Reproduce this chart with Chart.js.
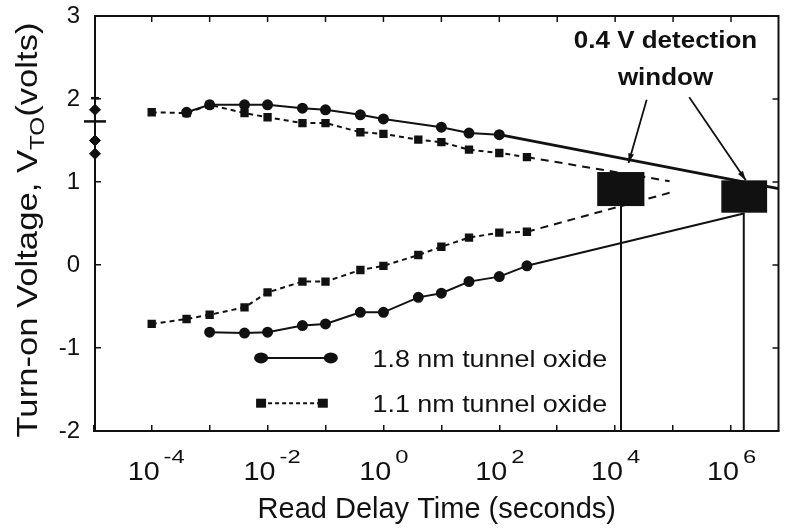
<!DOCTYPE html>
<html>
<head>
<meta charset="utf-8">
<script src="https://cdn.jsdelivr.net/npm/chart.js@4.4.1/dist/chart.umd.min.js"></script>
<style>
  html, body { margin: 0; padding: 0; background: #fff; }
</style>
</head>
<body>
<canvas id="chart" width="792" height="528"></canvas>
<script>
// --- data (x = read delay time in seconds, y = V_TO in volts) ---
const timesUpper18 = [4e-4, 1e-3, 4e-3, 1e-2, 4e-2, 1e-1, 4e-1, 1, 10, 30, 100];
const voltsUpper18 = [1.84, 1.93, 1.93, 1.93, 1.89, 1.87, 1.81, 1.76, 1.66, 1.59, 1.57];
const timesLower18 = [1e-3, 4e-3, 1e-2, 4e-2, 1e-1, 4e-1, 1, 4, 10, 30, 100, 300];
const voltsLower18 = [-0.81, -0.82, -0.81, -0.73, -0.71, -0.57, -0.57, -0.39, -0.34, -0.20, -0.14, -0.01];
const times11 = [1e-4, 4e-4, 1e-3, 4e-3, 1e-2, 4e-2, 1e-1, 4e-1, 1, 4, 10, 30, 100, 300];
const voltsUpper11 = [1.84, 1.83, 1.93, 1.83, 1.78, 1.71, 1.71, 1.60, 1.58, 1.51, 1.48, 1.39, 1.35, 1.30];
const voltsLower11 = [-0.71, -0.65, -0.60, -0.51, -0.33, -0.20, -0.20, -0.06, -0.01, 0.12, 0.22, 0.33, 0.39, 0.40];

// extrapolated trends
const trendUp18Times = [100, 6.6e6];
const trendUp18Volts = [1.57, 0.92];
const trendLow18Times = [300, 1.66e6];
const trendLow18Volts = [-0.01, 0.62];
const trendUp11Times = [300, 8.7e4];
const trendUp11Volts = [1.30, 1.01];
const trendLow11Times = [300, 8.7e4];
const trendLow11Volts = [0.40, 0.87];

// initial (t -> 0) spread plotted on the y axis
const initialTime = 1.05e-5;
const initialVolts = [1.87, 1.50, 1.34];
const initialBarVolts = [2.01, 1.73];

// 0.4 V detection windows
const windowXFrom = [4.9e3, 6.8e5];
const windowXTo = [3.2e4, 4.2e6];
const windowYFrom = [0.71, 0.63];
const windowYTo = [1.12, 1.02];
const windowDropX = [1.26e4, 1.66e6];

// annotation
const noteLines = ['0.4 V detection', 'window'];
const noteX = [7.4e4, 7.4e4];
const noteY = [2.69, 2.25];
const arrowFromX = [3.5e4, 1.9e5];
const arrowFromY = [1.99, 2.02];
const arrowToX = [1.7e4, 1.8e6];
const arrowToY = [1.23, 1.02];

// axes
const xDecades = [-5, -4, -3, -2, -1, 0, 1, 2, 3, 4, 5, 6];
const xLabelExps = [-4, -2, 0, 2, 4, 6];
const yTicks = [-2, -1, 0, 1, 2, 3];
const legendLabels = ['1.8 nm tunnel oxide', '1.1 nm tunnel oxide'];

const INK = '#111';
const FONT = '"Liberation Sans", Arial, sans-serif';

const pts = (xs, ys) => xs.map((x, i) => ({ x, y: ys[i] }));

function stretched(ctx, text, x, y, sx) {
  ctx.save();
  ctx.translate(x, y);
  ctx.scale(sx, 1);
  ctx.fillText(text, 0, 0);
  ctx.restore();
}

const overlay = {
  id: 'overlay',
  afterDatasetsDraw(chart) {
    const { ctx, chartArea: a, scales: { x, y } } = chart;
    ctx.save();
    ctx.fillStyle = INK;
    ctx.strokeStyle = INK;

    // detection window blocks
    windowXFrom.forEach((x0, i) => {
      const px0 = x.getPixelForValue(x0), px1 = x.getPixelForValue(windowXTo[i]);
      const py0 = y.getPixelForValue(windowYTo[i]), py1 = y.getPixelForValue(windowYFrom[i]);
      ctx.fillRect(px0, py0, px1 - px0, py1 - py0);
    });

    // frame: top and right sides + inner ticks
    ctx.lineWidth = 2;
    ctx.beginPath();
    ctx.moveTo(a.left, a.top); ctx.lineTo(a.right, a.top); ctx.lineTo(a.right, a.bottom);
    ctx.stroke();
    ctx.lineWidth = 1.5;
    xDecades.forEach(d => {
      const px = x.getPixelForValue(Math.pow(10, d));
      if (px <= a.left + 2 || px >= a.right - 2) return;
      ctx.beginPath(); ctx.moveTo(px, a.top); ctx.lineTo(px, a.top + 6); ctx.stroke();
    });
    yTicks.forEach(t => {
      const py = y.getPixelForValue(t);
      ctx.beginPath(); ctx.moveTo(a.right, py); ctx.lineTo(a.right - 6, py); ctx.stroke();
    });

    // arrows
    ctx.lineWidth = 1.8;
    arrowFromX.forEach((fx, i) => {
      const x0 = x.getPixelForValue(fx), y0 = y.getPixelForValue(arrowFromY[i]);
      const x1 = x.getPixelForValue(arrowToX[i]), y1 = y.getPixelForValue(arrowToY[i]);
      const ang = Math.atan2(y1 - y0, x1 - x0);
      ctx.beginPath(); ctx.moveTo(x0, y0); ctx.lineTo(x1, y1); ctx.stroke();
      ctx.beginPath();
      ctx.moveTo(x1, y1);
      ctx.lineTo(x1 - 10 * Math.cos(ang - 0.3), y1 - 10 * Math.sin(ang - 0.3));
      ctx.lineTo(x1 - 10 * Math.cos(ang + 0.3), y1 - 10 * Math.sin(ang + 0.3));
      ctx.closePath(); ctx.fill();
    });

    // annotation text
    ctx.font = 'bold 23px ' + FONT;
    ctx.textAlign = 'center';
    ctx.textBaseline = 'middle';
    noteLines.forEach((t, i) => {
      stretched(ctx, t, x.getPixelForValue(noteX[i]), y.getPixelForValue(noteY[i]), 1.13);
    });

    // legend inside the plot
    const lx0 = a.left + a.width * 0.243, lx1 = a.left + a.width * 0.345;
    const tx = a.left + a.width * 0.406;
    const rows = [a.top + a.height * 0.824, a.top + a.height * 0.933];
    ctx.lineWidth = 2;
    ctx.beginPath(); ctx.moveTo(lx0, rows[0]); ctx.lineTo(lx1, rows[0]); ctx.stroke();
    [lx0, lx1].forEach(px => { ctx.beginPath(); ctx.ellipse(px, rows[0], 7, 5.5, 0, 0, Math.PI * 2); ctx.fill(); });
    const lx1b = lx1 - 8;
    ctx.setLineDash([4, 3]);
    ctx.beginPath(); ctx.moveTo(lx0, rows[1]); ctx.lineTo(lx1b, rows[1]); ctx.stroke();
    ctx.setLineDash([]);
    [lx0, lx1b].forEach(px => ctx.fillRect(px - 5, rows[1] - 4.5, 10, 9));
    ctx.font = '24px ' + FONT;
    ctx.textAlign = 'left';
    legendLabels.forEach((t, i) => stretched(ctx, t, tx, rows[i] + 2, 1.12));

    ctx.restore();
  },
  afterDraw(chart) {
    const { ctx, chartArea: a, scales: { x } } = chart;
    ctx.save();
    ctx.fillStyle = INK;
    ctx.textBaseline = 'alphabetic';
    ctx.textAlign = 'left';

    // x tick labels as powers of ten
    xLabelExps.forEach(e => {
      const px = x.getPixelForValue(Math.pow(10, e));
      ctx.font = '25px ' + FONT;
      const wb = ctx.measureText('10').width * 1.15;
      ctx.font = '19px ' + FONT;
      const wd = ctx.measureText(String(Math.abs(e))).width * 1.15;
      const start = px - (wb + 4 + wd) / 2;
      ctx.font = '25px ' + FONT;
      stretched(ctx, '10', start, a.bottom + 49, 1.15);
      ctx.font = '19px ' + FONT;
      stretched(ctx, String(e), start + wb + 4, a.bottom + 32, 1.25);
    });

    // y axis title with subscript
    ctx.translate(37, a.top + 214);
    ctx.rotate(-Math.PI / 2);
    const big = '30px ' + FONT, small = '21px ' + FONT;
    const parts = [['Turn-on Voltage, V', big, 0], ['TO', small, 7], ['(volts)', big, 0]];
    let total = 0;
    parts.forEach(p => { ctx.font = p[1]; total += ctx.measureText(p[0]).width; });
    const sx = 415 / total;
    ctx.scale(sx, 1);
    let cx = -total / 2;
    parts.forEach(p => {
      ctx.font = p[1];
      ctx.fillText(p[0], cx, p[2]);
      cx += ctx.measureText(p[0]).width;
    });
    ctx.restore();
  }
};

const solid = { showLine: true, borderColor: INK, backgroundColor: INK, borderWidth: 2 };
const dashed = { ...solid, borderDash: [5, 4] };

new Chart(document.getElementById('chart'), {
  type: 'scatter',
  data: {
    datasets: [
      { ...solid, label: '1.8 nm upper', data: pts(timesUpper18, voltsUpper18), pointStyle: 'circle', pointRadius: 4.5 },
      { ...solid, label: '1.8 nm lower', data: pts(timesLower18, voltsLower18), pointStyle: 'circle', pointRadius: 4.5 },
      { ...dashed, label: '1.1 nm upper', data: pts(times11, voltsUpper11), pointStyle: 'rect', pointRadius: 4.5 },
      { ...dashed, label: '1.1 nm lower', data: pts(times11, voltsLower11), pointStyle: 'rect', pointRadius: 4.5 },
      { ...solid, borderWidth: 2.8, data: pts(trendUp18Times, trendUp18Volts), pointRadius: 0 },
      { ...solid, data: pts(trendLow18Times, trendLow18Volts), pointRadius: 0 },
      { ...dashed, borderDash: [8, 6], data: pts(trendUp11Times, trendUp11Volts), pointRadius: 0 },
      { ...dashed, borderDash: [8, 6], data: pts(trendLow11Times, trendLow11Volts), pointRadius: 0 },
      ...windowDropX.map((wx, i) => ({ ...solid, data: pts([wx, wx], [windowYFrom[i], -2]), pointRadius: 0 })),
      { label: 'initial', data: initialVolts.map(v => ({ x: initialTime, y: v })), backgroundColor: INK, borderColor: INK,
        pointStyle: 'rectRot', pointRadius: 5.5, clip: false },
      { label: 'initial bars', data: initialBarVolts.map(v => ({ x: initialTime, y: v })), borderColor: INK, borderWidth: 2.5,
        pointStyle: 'line', pointRadius: [4, 11], clip: false }
    ]
  },
  options: {
    responsive: false,
    animation: false,
    devicePixelRatio: 1,
    layout: { padding: { left: 0, right: 7, top: 16, bottom: 0 } },
    plugins: { legend: { display: false }, tooltip: { enabled: false } },
    scales: {
      x: {
        type: 'logarithmic',
        min: initialTime,
        max: 6.6e6,
        afterBuildTicks: s => { s.ticks = xDecades.map(d => ({ value: Math.pow(10, d) })); },
        afterFit: s => { s.height = 97; s.paddingLeft = 0; s.paddingRight = 0; },
        ticks: { display: false },
        grid: { drawOnChartArea: false, drawTicks: true, tickLength: -6, color: INK, lineWidth: 1.5 },
        border: { display: true, color: INK, width: 2 },
        title: { display: true, text: 'Read Delay Time (seconds)', color: INK,
                 font: { family: FONT, size: 29 }, padding: { top: 0, bottom: 1 } }
      },
      y: {
        min: -2,
        max: 3,
        afterBuildTicks: s => { s.ticks = yTicks.map(v => ({ value: v })); },
        afterFit: s => { s.width = 95; s.paddingTop = 0; s.paddingBottom = 0; },
        ticks: { color: INK, font: { family: FONT, size: 24 }, padding: 21 },
        grid: { drawOnChartArea: false, drawTicks: true, tickLength: -6, color: INK, lineWidth: 1.5 },
        border: { display: true, color: INK, width: 2 }
      }
    }
  },
  plugins: [overlay]
});
</script>
</body>
</html>
